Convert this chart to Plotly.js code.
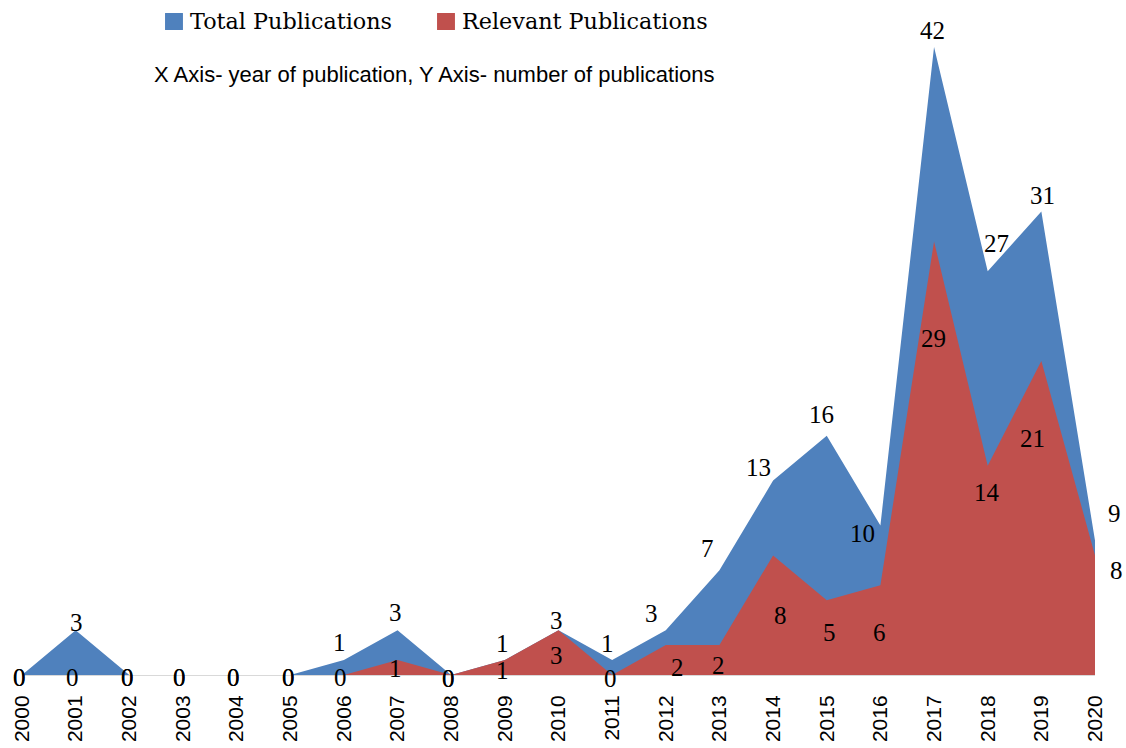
<!DOCTYPE html>
<html>
<head>
<meta charset="utf-8">
<script src="https://cdn.plot.ly/plotly-3.0.1.min.js"></script>
<style>html,body{margin:0;padding:0;background:#fff;}#chart{width:1126px;height:748px;}</style>
</head>
<body>
<div id="chart"></div>
<script>
// ---- data ----
const years = [2000,2001,2002,2003,2004,2005,2006,2007,2008,2009,2010,2011,2012,2013,2014,2015,2016,2017,2018,2019,2020];
const totalPubs    = [0,3,0,0,0,0,1,3,0,1,3,1,3,7,13,16,10,42,27,31,9];
const relevantPubs = [0,0,0,0,0,0,0,1,0,1,3,0,2,2,8,5,6,29,14,21,8];
const seriesNames = ["Total Publications", "Relevant Publications"];
const subtitle = "X Axis- year of publication, Y Axis- number of publications";

// ---- label offsets (pixels) ----
const totalDx = [-3,1,-2,-3,-3,-2,-4,-2,-3,-2,-2,-5,-14,-12,-15,-5,-18,-2,9,1,19];
const totalDy = [-2,8,-2,-2,-2,-2,18,18,-3,17,10,17,17,22,13,21,-8,17,28,16,27];
const relDx   = [-3,-3,-2,-3,-3,-2,-3,-2,-3,-2,-2,-2,12,-1,7,3,-1,-1,-1,-9,21];
const relDy   = [-2,-2,-2,-2,-2,-2,-2,-8,-3,-10,-25,-3,-22,-20,-60,-32,-47,-97,-27,-77,-15];

const blue = "#4F81BD", red = "#C0504D";
const labelFont = {family: "Liberation Serif, Times New Roman, serif", size: 25, color: "#000"};
const legendFont = {family: "DejaVu Serif, serif", size: 22.3, color: "#000"};
const sans = "Liberation Sans, Arial, sans-serif";

const traces = [
  {x: years, y: totalPubs, type: "scatter", mode: "none", fill: "tozeroy", fillcolor: blue, name: seriesNames[0], showlegend: false, hoverinfo: "skip"},
  {x: years, y: relevantPubs, type: "scatter", mode: "none", fill: "tozeroy", fillcolor: red, name: seriesNames[1], showlegend: false, hoverinfo: "skip"}
];

const annotations = [];
years.forEach((yr, i) => {
  annotations.push({x: yr, y: totalPubs[i], text: String(totalPubs[i]), showarrow: false,
    xshift: totalDx[i], yshift: totalDy[i], xanchor: "center", yanchor: "middle", font: labelFont});
});
years.forEach((yr, i) => {
  annotations.push({x: yr, y: relevantPubs[i], text: String(relevantPubs[i]), showarrow: false,
    xshift: relDx[i], yshift: relDy[i], xanchor: "center", yanchor: "middle", font: labelFont});
});
// subtitle
annotations.push({xref: "paper", yref: "paper", x: 0.121, y: 0.956, xanchor: "left", yanchor: "middle",
  text: subtitle, showarrow: false, font: {family: sans, size: 22, color: "#000"}});
// legend texts
annotations.push({xref: "paper", yref: "paper", x: 0.1547, y: 1.0414, xanchor: "left", yanchor: "middle",
  text: seriesNames[0], showarrow: false, font: legendFont});
annotations.push({xref: "paper", yref: "paper", x: 0.4082, y: 1.0414, xanchor: "left", yanchor: "middle",
  text: seriesNames[1], showarrow: false, font: legendFont});

const shapes = [
  {type: "rect", xref: "paper", yref: "paper", x0: 0.1333, x1: 0.1500, y0: 1.0271, y1: 1.0541, fillcolor: blue, line: {width: 0}},
  {type: "rect", xref: "paper", yref: "paper", x0: 0.3868, x1: 0.4035, y0: 1.0271, y1: 1.0541, fillcolor: red, line: {width: 0}}
];

const layout = {
  width: 1126, height: 748,
  margin: {l: 22, r: 31, t: 47, b: 73},
  paper_bgcolor: "#fff", plot_bgcolor: "#fff",
  showlegend: false,
  xaxis: {range: [2000, 2020], tickmode: "array", tickvals: years, ticktext: years.map(String),
    tickangle: -90, ticks: "", showgrid: false, zeroline: false, showline: true, linecolor: "#d9d9d9", linewidth: 1,
    tickfont: {family: sans, size: 21, color: "#000"}, ticklabelstandoff: 11, fixedrange: true, automargin: false},
  yaxis: {range: [0, 42], visible: false, fixedrange: true},
  annotations: annotations,
  shapes: shapes
};

Plotly.newPlot("chart", traces, layout, {staticPlot: true});
</script>
</body>
</html>
